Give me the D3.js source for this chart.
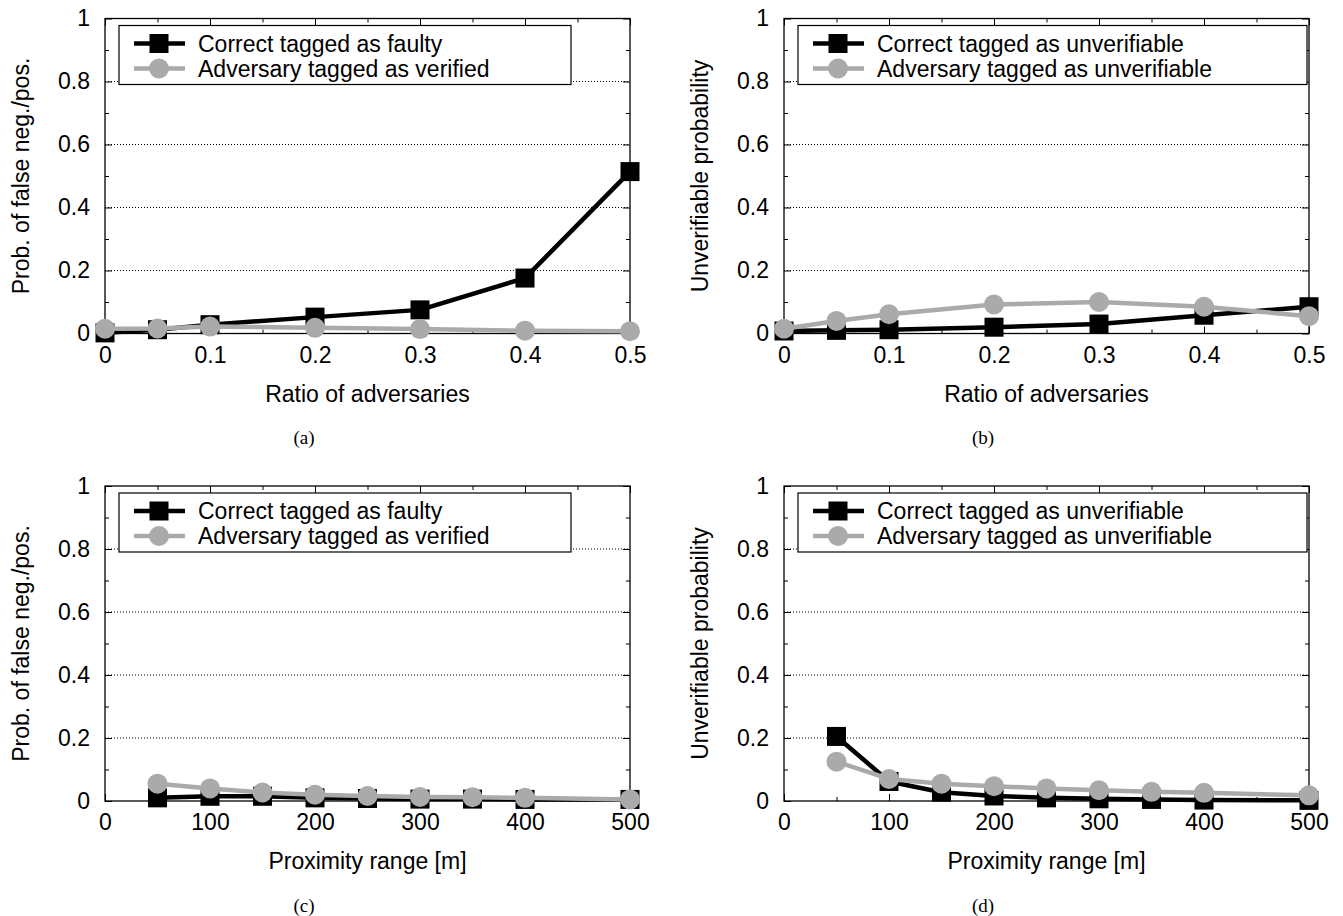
<!DOCTYPE html>
<html>
<head>
<meta charset="utf-8">
<script src="https://cdn.jsdelivr.net/npm/d3@7"></script>
<style>
body { margin: 0; background: #fff; }
svg { display: block; }
text { font-family: "Liberation Sans", Arial, Helvetica, sans-serif; fill: #000; }
.caption { font-family: "Liberation Serif", "Times New Roman", serif; }
</style>
</head>
<body>
<svg width="1343" height="916"></svg>
<script>
// x values
const ratioX = [0, 0.05, 0.1, 0.2, 0.3, 0.4, 0.5];
const rangeX = [50, 100, 150, 200, 250, 300, 350, 400, 500];

// (a) ratio of adversaries -> false neg./pos.
const faultyA = [0.002, 0.012, 0.028, 0.052, 0.075, 0.176, 0.514];
const verifiedA = [0.015, 0.016, 0.022, 0.018, 0.014, 0.009, 0.007];
// (b) ratio of adversaries -> unverifiable
const unverCorrectB = [0.008, 0.01, 0.012, 0.02, 0.03, 0.058, 0.085];
const unverAdvB = [0.015, 0.04, 0.061, 0.092, 0.1, 0.085, 0.055];
// (c) proximity range -> false neg./pos.
const faultyC = [0.01, 0.015, 0.015, 0.01, 0.008, 0.006, 0.006, 0.005, 0.005];
const verifiedC = [0.055, 0.04, 0.027, 0.02, 0.016, 0.013, 0.012, 0.01, 0.005];
// (d) proximity range -> unverifiable
const unverCorrectD = [0.205, 0.062, 0.028, 0.016, 0.01, 0.007, 0.005, 0.003, 0.002];
const unverAdvD = [0.125, 0.07, 0.055, 0.047, 0.04, 0.034, 0.029, 0.026, 0.018];

const yTicks = [0, 0.2, 0.4, 0.6, 0.8, 1];
const yMinor = [0.1, 0.3, 0.5, 0.7, 0.9];
const gridTicks = [0.2, 0.4, 0.6, 0.8];
const ratioTicks = [0, 0.1, 0.2, 0.3, 0.4, 0.5];
const ratioMinor = [0.05, 0.15, 0.25, 0.35, 0.45];
const rangeTicks = [0, 100, 200, 300, 400, 500];
const rangeMinor = [50, 150, 250, 350, 450];

const namesFaulty = ['Correct tagged as faulty', 'Adversary tagged as verified'];
const namesUnver = ['Correct tagged as unverifiable', 'Adversary tagged as unverifiable'];

const svg = d3.select('svg');
const plotW = 525;
const plotH = 315;
const fontSize = 23;
const black = '#000';
const gray = '#aaaaaa';

const panels = [
  { left: 105, top: 18.5, xs: ratioX, domain: [0, 0.5], ticks: ratioTicks, minor: ratioMinor,
    xTitle: 'Ratio of adversaries', yTitle: 'Prob. of false neg./pos.',
    series: [faultyA, verifiedA], names: namesFaulty, legendW: 452, caption: '(a)' },
  { left: 784, top: 18.5, xs: ratioX, domain: [0, 0.5], ticks: ratioTicks, minor: ratioMinor,
    xTitle: 'Ratio of adversaries', yTitle: 'Unverifiable probability',
    series: [unverCorrectB, unverAdvB], names: namesUnver, legendW: 509, caption: '(b)' },
  { left: 105, top: 486, xs: rangeX, domain: [0, 500], ticks: rangeTicks, minor: rangeMinor,
    xTitle: 'Proximity range [m]', yTitle: 'Prob. of false neg./pos.',
    series: [faultyC, verifiedC], names: namesFaulty, legendW: 452, caption: '(c)' },
  { left: 784, top: 486, xs: rangeX, domain: [0, 500], ticks: rangeTicks, minor: rangeMinor,
    xTitle: 'Proximity range [m]', yTitle: 'Unverifiable probability',
    series: [unverCorrectD, unverAdvD], names: namesUnver, legendW: 509, caption: '(d)' }
];

function drawMarker(g, kind, cx, cy) {
  if (kind === 0) {
    g.append('rect')
     .attr('x', cx - 9.5).attr('y', cy - 9.5)
     .attr('width', 19).attr('height', 19)
     .attr('fill', black);
  } else {
    g.append('circle')
     .attr('cx', cx).attr('cy', cy).attr('r', 10)
     .attr('fill', gray);
  }
}

function drawPanel(p) {
  const g = svg.append('g').attr('transform', `translate(${p.left},${p.top})`);
  const x = d3.scaleLinear().domain(p.domain).range([0, plotW]);
  const y = d3.scaleLinear().domain([0, 1]).range([plotH, 0]);
  const fmt = d3.format('~g');

  // dotted grid
  g.append('g').selectAll('line').data(gridTicks).enter().append('line')
   .attr('x1', 0).attr('x2', plotW)
   .attr('y1', d => y(d)).attr('y2', d => y(d))
   .attr('stroke', '#000').attr('stroke-width', 1)
   .attr('stroke-dasharray', '1,2');

  // axes, ticks pointing inward on all four sides
  g.append('g').attr('transform', `translate(0,${plotH})`)
    .call(d3.axisBottom(x).tickValues(p.ticks).tickFormat(fmt).tickSizeInner(-7).tickSizeOuter(0).tickPadding(13));
  g.append('g').attr('transform', `translate(0,${plotH})`)
    .call(d3.axisBottom(x).tickValues(p.minor).tickFormat('').tickSizeInner(-4).tickSizeOuter(0));
  g.append('g')
    .call(d3.axisTop(x).tickValues(p.ticks).tickFormat('').tickSizeInner(-7).tickSizeOuter(0));
  g.append('g')
    .call(d3.axisTop(x).tickValues(p.minor).tickFormat('').tickSizeInner(-4).tickSizeOuter(0));
  g.append('g')
    .call(d3.axisLeft(y).tickValues(yTicks).tickFormat(fmt).tickSizeInner(-7).tickSizeOuter(0).tickPadding(15));
  g.append('g')
    .call(d3.axisLeft(y).tickValues(yMinor).tickFormat('').tickSizeInner(-4).tickSizeOuter(0));
  g.append('g').attr('transform', `translate(${plotW},0)`)
    .call(d3.axisRight(y).tickValues(yTicks).tickFormat('').tickSizeInner(-7).tickSizeOuter(0));
  g.append('g').attr('transform', `translate(${plotW},0)`)
    .call(d3.axisRight(y).tickValues(yMinor).tickFormat('').tickSizeInner(-4).tickSizeOuter(0));
  g.selectAll('.domain').remove();
  g.selectAll('.tick line').attr('stroke', '#000').attr('stroke-width', 1);
  g.selectAll('.tick text').attr('font-size', fontSize).attr('font-family', null);

  // frame
  g.append('rect')
   .attr('width', plotW).attr('height', plotH)
   .attr('fill', 'none').attr('stroke', '#000').attr('stroke-width', 1.3);

  // key
  const key = g.append('g').attr('transform', 'translate(14,7)');
  key.append('rect')
     .attr('width', p.legendW).attr('height', 59)
     .attr('fill', '#fff').attr('stroke', '#000').attr('stroke-width', 1.2);
  p.names.forEach((name, i) => {
    const ky = 18 + i * 25;
    key.append('line')
       .attr('x1', 15).attr('x2', 66).attr('y1', ky).attr('y2', ky)
       .attr('stroke', i === 0 ? black : gray).attr('stroke-width', 4.5);
    drawMarker(key, i, 40, ky);
    key.append('text')
       .attr('x', 79).attr('y', ky)
       .attr('dy', '0.36em')
       .attr('font-size', fontSize)
       .text(name);
  });

  // series: black squares first, gray circles on top
  const line = d3.line().x(d => x(d[0])).y(d => y(d[1]));
  p.series.forEach((vals, i) => {
    const pts = p.xs.map((v, j) => [v, vals[j]]);
    const s = g.append('g');
    s.append('path')
     .attr('d', line(pts))
     .attr('fill', 'none')
     .attr('stroke', i === 0 ? black : gray)
     .attr('stroke-width', 4.5)
     .attr('stroke-linejoin', 'round');
    pts.forEach(d => drawMarker(s, i, x(d[0]), y(d[1])));
  });

  // titles
  g.append('text')
   .attr('x', plotW / 2).attr('y', plotH + 60)
   .attr('text-anchor', 'middle').attr('dy', '0.36em')
   .attr('font-size', fontSize)
   .text(p.xTitle);
  g.append('text')
   .attr('transform', `translate(-84,${plotH / 2}) rotate(-90)`)
   .attr('text-anchor', 'middle').attr('dy', '0.36em')
   .attr('font-size', fontSize)
   .text(p.yTitle);
  g.append('text')
   .attr('class', 'caption')
   .attr('x', 199).attr('y', plotH + 104)
   .attr('text-anchor', 'middle').attr('dy', '0.36em')
   .attr('font-size', 19)
   .text(p.caption);
}

panels.forEach(drawPanel);
</script>
</body>
</html>
